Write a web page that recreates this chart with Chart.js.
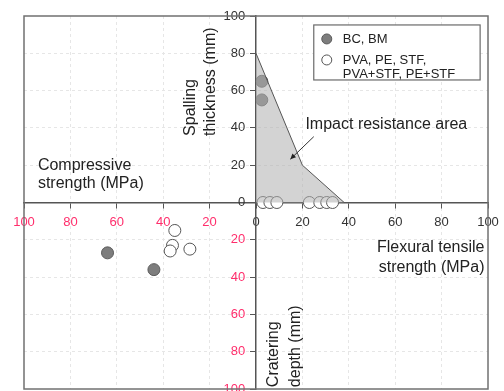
<!DOCTYPE html>
<html><head><meta charset="utf-8">
<script src="https://cdn.jsdelivr.net/npm/chart.js@4/dist/chart.umd.min.js"></script>
<style>html,body{margin:0;padding:0;background:#fff;}#wrap{width:504px;height:391px;position:relative;}</style>
</head><body><div id="wrap"><canvas id="c"></canvas></div>
<script>
// ---- data ----
const tickStep = 20;
const axisMin = -100, axisMax = 100;
const bcLabel = 'BC, BM';
const bcX = [2.5, 2.5, -64, -44];
const bcY = [65, 55, -27, -36];
const fibreLabelLines = ['PVA, PE, STF,', 'PVA+STF, PE+STF'];
const fibreX = [3, 6, 9, 23, 27.5, 30.5, 33, -35, -36, -37, -28.5];
const fibreY = [0, 0, 0, 0, 0, 0, 0, -15, -23, -26, -25];
const areaX = [0, 20, 38];
const areaY = [80, 20, 0];
const areaLabel = 'Impact resistance area';

const RED = '#ff2e6c', DARK = '#333333', FONT = "'Liberation Sans', Arial, sans-serif";
const pts = (xs, ys) => xs.map((v, i) => ({x: v, y: ys[i]}));

const overlay = {
  id: 'overlay',
  afterDraw(chart) {
    const {ctx, chartArea: a, scales: {x, y}} = chart;
    ctx.save();
    ctx.strokeStyle = '#707070'; ctx.lineWidth = 1.5;
    ctx.strokeRect(a.left, a.top, a.right - a.left, a.bottom - a.top);
    ctx.fillStyle = '#222';
    ctx.font = '16px ' + FONT;
    ctx.textBaseline = 'middle';
    // Compressive strength
    ctx.textAlign = 'left';
    ctx.fillText('Compressive', x.getPixelForValue(-94), y.getPixelForValue(20));
    ctx.fillText('strength (MPa)', x.getPixelForValue(-94), y.getPixelForValue(10));
    // Flexural tensile strength
    ctx.textAlign = 'right';
    ctx.fillText('Flexural tensile', x.getPixelForValue(98.5), y.getPixelForValue(-24));
    ctx.fillText('strength (MPa)', x.getPixelForValue(98.5), y.getPixelForValue(-34.7));
    // Impact resistance area
    ctx.textAlign = 'left';
    ctx.fillText(areaLabel, x.getPixelForValue(21.3), y.getPixelForValue(41.6));
    // rotated labels
    const rot = (txt, xv, yv) => {
      ctx.save();
      ctx.translate(x.getPixelForValue(xv), y.getPixelForValue(yv));
      ctx.rotate(-Math.PI / 2);
      ctx.textAlign = 'left'; ctx.textBaseline = 'middle';
      ctx.fillText(txt, 0, 0);
      ctx.restore();
    };
    rot('Spalling', -28.4, 35.7);
    rot('thickness (mm)', -19.4, 35.7);
    rot('Cratering', 7.6, -99);
    rot('depth (mm)', 16.9, -99);
    // arrow
    const x1 = x.getPixelForValue(24.9), y1 = y.getPixelForValue(35.3);
    const x2 = x.getPixelForValue(14.8), y2 = y.getPixelForValue(23.2);
    ctx.strokeStyle = '#333'; ctx.lineWidth = 1;
    ctx.beginPath(); ctx.moveTo(x1, y1); ctx.lineTo(x2, y2); ctx.stroke();
    const ang = Math.atan2(y2 - y1, x2 - x1);
    ctx.beginPath();
    ctx.moveTo(x2, y2);
    ctx.lineTo(x2 - 6 * Math.cos(ang - 0.45), y2 - 6 * Math.sin(ang - 0.45));
    ctx.lineTo(x2 - 6 * Math.cos(ang + 0.45), y2 - 6 * Math.sin(ang + 0.45));
    ctx.closePath(); ctx.fillStyle = '#222'; ctx.fill();
    // legend
    const lx = x.getPixelForValue(24.9), ly = y.getPixelForValue(95.2);
    const rx = x.getPixelForValue(96.6), by = y.getPixelForValue(65.7);
    ctx.fillStyle = '#fff';
    ctx.fillRect(lx, ly, rx - lx, by - ly);
    ctx.strokeStyle = '#6a6a6a'; ctx.lineWidth = 1.2;
    ctx.strokeRect(lx, ly, rx - lx, by - ly);
    const ds = chart.data.datasets;
    const items = [[ds[1], [bcLabel]], [ds[2], fibreLabelLines]];
    let cy = ly + 14;
    ctx.font = '13px ' + FONT; ctx.textAlign = 'left'; ctx.fillStyle = '#222';
    items.forEach(([d, lines]) => {
      ctx.beginPath();
      ctx.arc(lx + 13, cy, 5, 0, Math.PI * 2);
      ctx.fillStyle = d.backgroundColor; ctx.fill();
      ctx.strokeStyle = d.borderColor; ctx.lineWidth = 1; ctx.stroke();
      ctx.fillStyle = '#222';
      lines.forEach((t, i) => ctx.fillText(t, lx + 29, cy + i * 14));
      cy += 21;
    });
    ctx.restore();
  }
};

const axisCommon = (other, suffix, pad) => ({
  type: 'linear', min: axisMin, max: axisMax,
  position: {[other]: 0},
  afterFit(s) { s.paddingLeft = 0; s.paddingRight = 0; s.paddingTop = 0; s.paddingBottom = 0; },
  ticks: {
    stepSize: tickStep,
    padding: pad,
    callback: v => Math.abs(v) + suffix,
    color: c => (c.tick && c.tick.value < 0) ? RED : DARK,
    font: {family: FONT, size: 13},
  },
  grid: {
    color: c => (c.tick && (c.tick.value === 0 || Math.abs(c.tick.value) === 100)) ? 'rgba(0,0,0,0)' : '#e6e6e6',
    tickColor: '#555', tickLength: 5, lineWidth: 1,
  },
  border: {display: true, color: '#555', width: 1.5, dash: [3, 3]},
});

new Chart(document.getElementById('c'), {
  type: 'scatter',
  data: {
    datasets: [
      {type: 'line', label: areaLabel, data: pts(areaX, areaY), fill: 'origin',
       backgroundColor: 'rgba(175,175,175,0.55)', borderColor: '#555', borderWidth: 1,
       pointRadius: 0, tension: 0},
      {label: bcLabel, data: pts(bcX, bcY), backgroundColor: '#7d7d7d', borderColor: '#5a5a5a',
       borderWidth: 1, pointRadius: 6},
      {label: fibreLabelLines.join(' '), data: pts(fibreX, fibreY), backgroundColor: '#ffffff',
       borderColor: '#555', borderWidth: 1, pointRadius: 6},
    ]
  },
  options: {
    responsive: true, maintainAspectRatio: false, animation: false,
    layout: {autoPadding: false, padding: {left: 24, top: 16, right: 16, bottom: 2}},
    plugins: {legend: {display: false}, tooltip: {enabled: false}},
    scales: {x: axisCommon('y', '', 7), y: axisCommon('x', '   ', 3)},
  },
  plugins: [overlay],
});
</script></body></html>
